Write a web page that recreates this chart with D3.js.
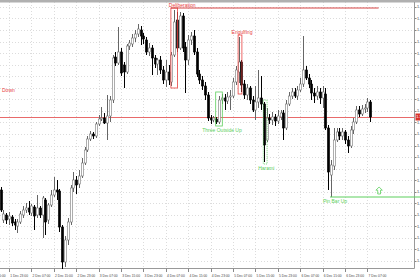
<!DOCTYPE html>
<html><head><meta charset="utf-8">
<script src="https://cdn.jsdelivr.net/npm/d3@7"></script>
<style>html,body{margin:0;padding:0;background:#fff;overflow:hidden}svg{display:block}text{font-family:"Liberation Sans",Arial,sans-serif}</style>
</head><body><svg id="c" width="420" height="280"></svg>
<script>
// Hourly OHLC prices
const opens=[1.1210,1.1180,1.1185,1.1181,1.1183,1.1178,1.1174,1.1178,1.1185,1.1190,
1.1192,1.1187,1.1193,1.1185,1.1192,1.1185,1.1200,1.1180,1.1195,1.1205,
1.1210,1.1209,1.1173,1.1138,1.1160,1.1178,1.1212,1.1220,1.1216,1.1224,
1.1237,1.1250,1.1261,1.1266,1.1264,1.1276,1.1281,1.1282,1.1277,1.1284,
1.1300,1.1343,1.1337,1.1348,1.1335,1.1328,1.1354,1.1356,1.1362,1.1366,
1.1370,1.1364,1.1360,1.1348,1.1352,1.1342,1.1336,1.1340,1.1330,1.1320,
1.1328,1.1318,1.1345,1.1380,1.1352,1.1384,1.1353,1.1340,1.1360,1.1364,
1.1348,1.1326,1.1320,1.1314,1.1305,1.1282,1.1280,1.1281,1.1278,1.1300,
1.1302,1.1299,1.1303,1.1304,1.1318,1.1328,1.1338,1.1316,1.1305,1.1312,
1.1300,1.1290,1.1298,1.1302,1.1296,1.1260,1.1282,1.1280,1.1283,1.1279,
1.1283,1.1287,1.1272,1.1296,1.1304,1.1308,1.1304,1.1310,1.1316,1.1330,
1.1322,1.1316,1.1307,1.1304,1.1308,1.1302,1.1306,1.1272,1.1225,1.1234,
1.1260,1.1268,1.1264,1.1268,1.1260,1.1254,1.1270,1.1278,1.1290,1.1286,
1.1291,1.1292,1.1298];
const highs=[1.1213,1.1190,1.1187,1.1188,1.1185,1.1181,1.1181,1.1189,1.1194,1.1197,
1.1199,1.1196,1.1195,1.1205,1.1194,1.1204,1.1202,1.1197,1.1210,1.1223,
1.1220,1.1211,1.1175,1.1164,1.1182,1.1215,1.1228,1.1224,1.1230,1.1242,
1.1253,1.1264,1.1269,1.1268,1.1278,1.1285,1.1293,1.1287,1.1305,1.1304,
1.1345,1.1348,1.1373,1.1352,1.1338,1.1356,1.1360,1.1366,1.1370,1.1376,
1.1374,1.1367,1.1363,1.1357,1.1355,1.1345,1.1342,1.1344,1.1334,1.1340,
1.1335,1.1348,1.1390,1.1388,1.1388,1.1387,1.1358,1.1365,1.1368,1.1370,
1.1352,1.1330,1.1324,1.1318,1.1308,1.1285,1.1284,1.1283,1.1304,1.1306,
1.1306,1.1308,1.1310,1.1322,1.1334,1.1363,1.1340,1.1320,1.1316,1.1314,
1.1304,1.1314,1.1330,1.1324,1.1298,1.1292,1.1286,1.1288,1.1286,1.1290,
1.1290,1.1290,1.1300,1.1308,1.1312,1.1312,1.1314,1.1322,1.1364,1.1334,
1.1326,1.1320,1.1312,1.1314,1.1312,1.1314,1.1312,1.1275,1.1240,1.1272,
1.1272,1.1272,1.1272,1.1270,1.1264,1.1274,1.1282,1.1294,1.1294,1.1295,
1.1296,1.1302,1.1300];
const lows=[1.1188,1.1177,1.1176,1.1175,1.1174,1.1170,1.1167,1.1176,1.1182,1.1187,
1.1185,1.1184,1.1170,1.1182,1.1182,1.1162,1.1165,1.1176,1.1193,1.1203,
1.1200,1.1168,1.1131,1.1133,1.1155,1.1175,1.1208,1.1206,1.1212,1.1222,
1.1235,1.1248,1.1259,1.1261,1.1262,1.1274,1.1279,1.1276,1.1260,1.1278,
1.1297,1.1334,1.1335,1.1324,1.1312,1.1326,1.1350,1.1353,1.1358,1.1363,
1.1355,1.1356,1.1345,1.1344,1.1325,1.1332,1.1325,1.1326,1.1316,1.1313,
1.1315,1.1314,1.1343,1.1348,1.1350,1.1348,1.1307,1.1335,1.1355,1.1345,
1.1323,1.1316,1.1310,1.1300,1.1279,1.1276,1.1278,1.1276,1.1276,1.1296,
1.1290,1.1296,1.1290,1.1302,1.1315,1.1317,1.1308,1.1301,1.1300,1.1296,
1.1288,1.1280,1.1292,1.1290,1.1238,1.1258,1.1276,1.1275,1.1274,1.1276,
1.1280,1.1260,1.1270,1.1294,1.1301,1.1302,1.1300,1.1308,1.1313,1.1320,
1.1312,1.1300,1.1297,1.1300,1.1296,1.1292,1.1270,1.1210,1.1203,1.1230,
1.1258,1.1260,1.1260,1.1256,1.1247,1.1252,1.1266,1.1276,1.1283,1.1284,
1.1287,1.1288,1.1278];
const closes=[1.1190,1.1186,1.1180,1.1184,1.1177,1.1175,1.1178,1.1186,1.1190,1.1192,
1.1188,1.1194,1.1184,1.1192,1.1185,1.1202,1.1178,1.1195,1.1205,1.1210,
1.1208,1.1173,1.1138,1.1160,1.1178,1.1212,1.1220,1.1215,1.1224,1.1237,
1.1250,1.1261,1.1266,1.1264,1.1276,1.1281,1.1282,1.1277,1.1284,1.1300,
1.1342,1.1337,1.1348,1.1327,1.1328,1.1354,1.1357,1.1362,1.1366,1.1371,
1.1364,1.1361,1.1348,1.1352,1.1342,1.1336,1.1340,1.1330,1.1320,1.1328,
1.1320,1.1345,1.1378,1.1352,1.1384,1.1352,1.1340,1.1360,1.1364,1.1348,
1.1326,1.1320,1.1314,1.1305,1.1282,1.1280,1.1282,1.1278,1.1300,1.1302,
1.1299,1.1303,1.1304,1.1318,1.1330,1.1338,1.1315,1.1305,1.1312,1.1300,
1.1290,1.1298,1.1302,1.1296,1.1255,1.1282,1.1280,1.1283,1.1279,1.1284,
1.1287,1.1272,1.1296,1.1304,1.1308,1.1304,1.1310,1.1316,1.1330,1.1322,
1.1316,1.1307,1.1304,1.1308,1.1302,1.1308,1.1272,1.1228,1.1235,1.1260,
1.1268,1.1264,1.1268,1.1260,1.1254,1.1270,1.1278,1.1290,1.1286,1.1291,
1.1292,1.1298,1.1283];

// Time axis labels (every 8th bar), first one partially off-screen
const timeTickIdx=[-5,3,11,19,27,35,43,51,59,67,75,83,91,99,107,115,123,131];
const timeLabels=["1 Dec 15:00","1 Dec 23:00","2 Dec 07:00","2 Dec 15:00","2 Dec 23:00","3 Dec 07:00","3 Dec 15:00","3 Dec 23:00","4 Dec 07:00","4 Dec 15:00","4 Dec 23:00","5 Dec 07:00","5 Dec 15:00","5 Dec 23:00","6 Dec 07:00","6 Dec 15:00","6 Dec 23:00","7 Dec 07:00"];
// Price grid levels
const priceTicks=[1.13930,1.13815,1.13699,1.13584,1.13468,1.13353,1.13237,1.13122,1.13006,1.12891,1.12775,1.12660,1.12544,1.12429,1.12313,1.12198,1.12082,1.11967,1.11851,1.11736,1.11620,1.11505,1.11389];

// Candlestick pattern annotations
const patternNames=["Deliberation","Engulfing","Three Outside Up","Harami"];
const patternStart=[61,85,77,94];
const patternEnd=[63,86,79,95];
const patternDir=["bear","bear","bull","bull"];
const pinBarName="Pin Bar Up", pinBarIdx=118;
const trendLabel="Down";
const resistanceEndIdx=135;

const svg=d3.select("#c");
const PR=414, PB=268;
const x=d3.scaleLinear().domain([0,147.64]).range([0.6,414]);
const y=d3.scaleLinear().domain([1.1132,1.1400]).range([268,0]);
const n=opens.length;
const red="#e8413f", green="#5ccf5c";

// grid
const g=svg.append("g");
g.selectAll("line.h").data(priceTicks).join("line")
 .attr("x1",0).attr("x2",PR).attr("y1",d=>Math.round(y(d))+0.5).attr("y2",d=>Math.round(y(d))+0.5)
 .attr("stroke","#dcdcdc").attr("stroke-dasharray","1,2");
g.selectAll("line.v").data(timeTickIdx.filter(i=>i>=0)).join("line")
 .attr("x1",d=>Math.round(x(d))+0.5).attr("x2",d=>Math.round(x(d))+0.5).attr("y1",2).attr("y2",PB)
 .attr("stroke","#dcdcdc").attr("stroke-dasharray","1,2");

// top border
svg.append("rect").attr("x",0).attr("y",0).attr("width",420).attr("height",2.5).attr("fill","#b0b0b0");

// axes
svg.append("line").attr("x1",PR+0.5).attr("x2",PR+0.5).attr("y1",2).attr("y2",PB+0.5).attr("stroke","#999");
svg.append("line").attr("x1",0).attr("x2",PR+0.5).attr("y1",PB+0.5).attr("y2",PB+0.5).attr("stroke","#999");
svg.selectAll("line.yt").data(priceTicks).join("line")
 .attr("x1",PR+0.5).attr("x2",PR+2.5).attr("y1",d=>Math.round(y(d))+0.5).attr("y2",d=>Math.round(y(d))+0.5).attr("stroke","#888");
svg.selectAll("text.yl").data(priceTicks).join("text")
 .attr("x",PR+3).attr("y",d=>y(d)+1.3).attr("font-size",3.8).attr("fill","#444").text(d=>d.toFixed(5));
svg.selectAll("line.xt").data(timeTickIdx).join("line")
 .attr("x1",d=>Math.round(x(d))+0.5).attr("x2",d=>Math.round(x(d))+0.5).attr("y1",PB+0.5).attr("y2",PB+4).attr("stroke","#888");
svg.selectAll("text.xl").data(timeTickIdx).join("text")
 .attr("x",d=>x(d)+1.2).attr("y",276.5).attr("font-size",3.3).attr("fill","#444").text((d,i)=>timeLabels[i]);

// price line
const last=closes[n-1];
svg.append("line").attr("x1",0).attr("x2",PR).attr("y1",Math.round(y(last))+0.5).attr("y2",Math.round(y(last))+0.5).attr("stroke","#e86a6a");

// candles
const idx=d3.range(n);
const cg=svg.append("g");
cg.selectAll("line.w").data(idx).join("line")
 .attr("x1",i=>Math.round(x(i))+0.5).attr("x2",i=>Math.round(x(i))+0.5)
 .attr("y1",i=>y(highs[i])).attr("y2",i=>y(lows[i]))
 .attr("stroke",i=>closes[i]>=opens[i]?"#666":"#000").attr("stroke-width",1);
cg.selectAll("rect.b").data(idx).join("rect")
 .attr("x",i=>Math.round(x(i))+0.5-1.1).attr("width",2.2)
 .attr("y",i=>y(Math.max(opens[i],closes[i])))
 .attr("height",i=>Math.max(1,Math.abs(y(opens[i])-y(closes[i]))))
 .attr("fill",i=>closes[i]>=opens[i]?"#fff":"#000")
 .attr("stroke",i=>closes[i]>=opens[i]?"#777":"#000").attr("stroke-width",0.6);

// pattern boxes and labels
patternNames.forEach((name,k)=>{
  const s=patternStart[k], e=patternEnd[k];
  const hi=d3.max(d3.range(s,e+1),i=>highs[i]), lo=d3.min(d3.range(s,e+1),i=>lows[i]);
  const col=patternDir[k]==="bear"?red:green;
  const x0=x(s)-0.5, x1=x(e)+0.5, y0=y(hi)-2, y1=y(lo)+2;
  svg.append("rect").attr("x",x0).attr("y",y0).attr("width",x1-x0).attr("height",y1-y0)
    .attr("fill","none").attr("stroke",col).attr("stroke-width",0.8)
    .attr("stroke-dasharray",name==="Harami"?"1,1":null);
  const cx=(x0+x1)/2;
  if(patternDir[k]==="bear"){
    svg.append("text").attr("x",cx+(name==="Deliberation"?8:2)).attr("y",y0-1.5).attr("text-anchor","middle")
      .attr("font-size",5).attr("fill",col).text(name);
  } else {
    svg.append("text").attr("x",cx+(name==="Harami"?1:3)).attr("y",y1+5.5).attr("text-anchor","middle")
      .attr("font-size",5).attr("fill",col).text(name);
  }
  if(name==="Deliberation"){
    svg.append("line").attr("x1",x0).attr("x2",x(resistanceEndIdx)).attr("y1",y0).attr("y2",y0)
      .attr("stroke","#d23030").attr("stroke-width",0.9);
  }
});

// pin bar
const pinY=y(lows[pinBarIdx]);
svg.append("line").attr("x1",x(pinBarIdx)-1).attr("x2",420).attr("y1",pinY).attr("y2",pinY)
  .attr("stroke",green).attr("stroke-width",1);
svg.append("text").attr("x",x(pinBarIdx)+4).attr("y",pinY+5.5).attr("text-anchor","middle")
  .attr("font-size",5).attr("fill",green).text(pinBarName);
const ax=x(135)+0.5, ay=pinY-3;
svg.append("path").attr("d",`M${ax},${ay-7} L${ax+3.2},${ay-3.8} L${ax+1.4},${ay-3.8} L${ax+1.4},${ay} L${ax-1.4},${ay} L${ax-1.4},${ay-3.8} L${ax-3.2},${ay-3.8} Z`)
  .attr("fill","none").attr("stroke",green).attr("stroke-width",0.8);

// trend label
svg.append("text").attr("x",2).attr("y",92).attr("font-size",5).attr("fill",red).text(trendLabel);

// current price tag
svg.append("rect").attr("x",PR+1.5).attr("y",y(last)-3.5).attr("width",6).attr("height",7).attr("fill","#d9342b");
svg.append("text").attr("x",PR+2.2).attr("y",y(last)+1.3).attr("font-size",3.8).attr("fill","#fff").text(last.toFixed(4));
</script></body></html>
